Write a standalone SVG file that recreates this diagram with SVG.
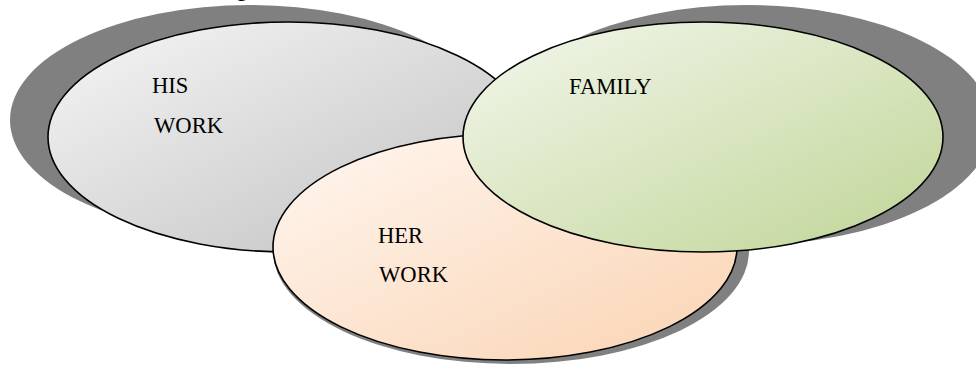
<svg xmlns="http://www.w3.org/2000/svg" width="976" height="367" viewBox="0 0 976 367">
<style>
.shadow{fill:#808080;}
.shape{stroke:#000;stroke-width:1.6;}
.lbl{font-family:"Liberation Serif","Times New Roman",serif;font-size:22.6px;fill:#000;}
</style>
<defs>
<linearGradient id="gGray" x1="0" y1="0" x2="1" y2="1">
<stop offset="0" stop-color="#f6f6f6"/>
<stop offset="1" stop-color="#bfbfbf"/>
</linearGradient>
<linearGradient id="gOrange" x1="0" y1="0" x2="1" y2="1">
<stop offset="0" stop-color="#fff7f1"/>
<stop offset="1" stop-color="#fad3b2"/>
</linearGradient>
<linearGradient id="gGreen" x1="0" y1="0" x2="1" y2="1">
<stop offset="0" stop-color="#f3f7ed"/>
<stop offset="1" stop-color="#c0d596"/>
</linearGradient>
</defs>
<text class="lbl" x="236" y="-4">g</text>
<g id="his-work">
<ellipse class="shadow" cx="250" cy="120" rx="240" ry="115"/>
<ellipse class="shape" cx="288" cy="137" rx="240" ry="115" fill="url(#gGray)"/>
<text class="lbl" x="152" y="93">HIS</text>
<text class="lbl" x="154" y="133">WORK</text>
</g>
<g id="her-work">
<ellipse class="shadow" cx="511" cy="251" rx="238" ry="113"/>
<ellipse class="shape" cx="505" cy="247" rx="232" ry="113" fill="url(#gOrange)"/>
<text class="lbl" x="378" y="243">HER</text>
<text class="lbl" x="379" y="282">WORK</text>
</g>
<g id="family">
<ellipse class="shadow" cx="747" cy="125" rx="245" ry="120"/>
<ellipse class="shape" cx="703" cy="137" rx="240" ry="115" fill="url(#gGreen)"/>
<text class="lbl" x="569" y="94">FAMILY</text>
</g>
<g id="connectors"/>
</svg>
